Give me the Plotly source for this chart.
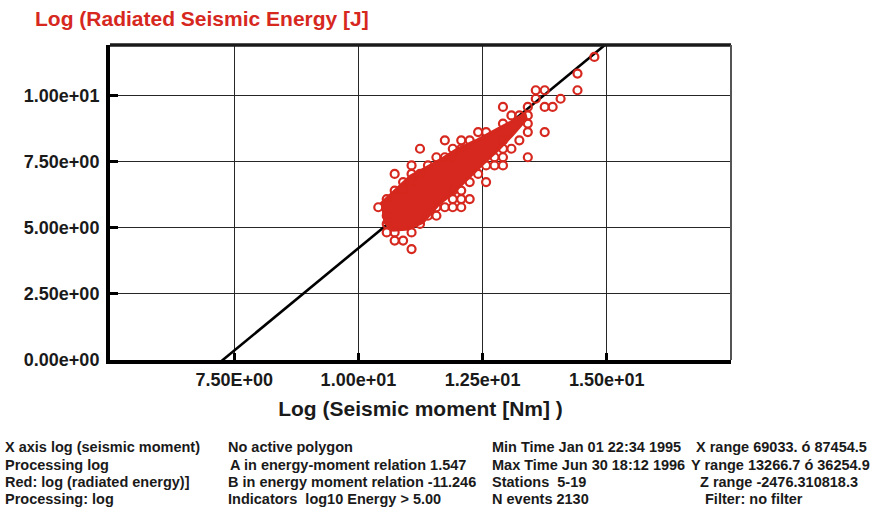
import plotly.graph_objects as go

# Energy-moment relation:  log E = A * log M0 + B
A_COEF = 1.547
B_COEF = -11.246

# Axis ranges and tick labels
x_range = [5.0, 17.5]
y_range = [0.0, 11.9]
x_tickvals = [7.5, 10.0, 12.5, 15.0]
x_ticktext = ["7.50E+00", "1.00e+01", "1.25e+01", "1.50e+01"]
y_tickvals = [0.0, 2.5, 5.0, 7.5, 10.0]
y_ticktext = ["0.00e+00", "2.50e+00", "5.00e+00", "7.50e+00", "1.00e+01"]

# Individual events: log seismic moment [Nm] and log radiated energy [J]
event_logm = [
    14.75, 14.41,
    13.57, 13.75, 14.41,
    13.57, 14.07,
    12.91, 13.41, 13.75, 13.91,
    13.08, 13.24, 13.41,
    12.91, 13.41,
    12.41, 12.57, 13.41, 13.75,
    11.74, 12.07, 12.24, 12.91, 13.24,
    11.24, 11.90, 12.07, 12.91, 13.08,
    11.57, 11.74, 11.90, 12.74, 12.91, 13.41,
    11.07, 11.40, 12.57, 12.74, 12.91,
    10.73, 11.07, 11.24, 12.41,
    10.90, 11.07, 12.24, 12.57,
    10.73, 10.90, 11.90, 12.07,
    10.57, 11.90, 12.07, 12.24,
    10.40, 11.57, 11.74, 11.90, 12.07,
    10.57, 11.40, 11.57,
    10.57, 11.24,
    10.57, 10.73, 11.07,
    10.73, 10.90,
    11.07,
]
event_loge = [
    11.45, 10.82,
    10.19, 10.19, 10.19,
    9.87, 9.87,
    9.56, 9.56, 9.56, 9.56,
    9.24, 9.24, 9.24,
    8.93, 8.93,
    8.61, 8.61, 8.61, 8.61,
    8.30, 8.30, 8.30, 8.30, 8.30,
    7.98, 7.98, 7.98, 7.98, 7.98,
    7.66, 7.66, 7.66, 7.66, 7.66, 7.66,
    7.35, 7.35, 7.35, 7.35, 7.35,
    7.03, 7.03, 7.03, 7.03,
    6.72, 6.72, 6.72, 6.72,
    6.40, 6.40, 6.40, 6.40,
    6.08, 6.08, 6.08, 6.08,
    5.77, 5.77, 5.77, 5.77, 5.77,
    5.45, 5.45, 5.45,
    5.14, 5.14,
    4.82, 4.82, 4.82,
    4.51, 4.51,
    4.19,
]

# Outline of the densely populated core of the cloud
core_logm = [10.45, 10.65, 10.85, 11.05, 11.35, 11.70, 12.00, 12.40, 12.80, 13.10, 13.35,
             13.38, 13.10, 12.80, 12.50, 12.20, 11.90, 11.60, 11.30, 11.00, 10.70, 10.50]
core_loge = [5.90, 6.25, 6.60, 6.95, 7.25, 7.62, 7.98, 8.32, 8.72, 9.02, 9.32,
             9.10, 8.50, 7.92, 7.40, 6.85, 6.30, 5.85, 5.20, 4.95, 4.90, 5.25]

RED = "#d6281e"
FONT = "Liberation Sans, Arial, Helvetica, sans-serif"

# Figure geometry (pixels)
W, H = 882, 509
PL, PR, PT, PB = 110, 731, 45, 360


def paper_x(px):
    return (px - PL) / (PR - PL)


def paper_y(py):
    return (PB - py) / (PB - PT)


fig = go.Figure()

# Fitted relation line
line_m = [x_range[0], x_range[1]]
line_e = [A_COEF * m + B_COEF for m in line_m]
fig.add_trace(go.Scatter(x=line_m, y=line_e, mode="lines",
                         line=dict(color="black", width=2.6),
                         hoverinfo="skip", showlegend=False))

# Dense core
fig.add_trace(go.Scatter(x=core_logm, y=core_loge, mode="lines", fill="toself",
                         fillcolor=RED, line=dict(color=RED, width=3),
                         hoverinfo="skip", showlegend=False))

# Events
fig.add_trace(go.Scatter(x=event_logm, y=event_loge, mode="markers",
                         marker=dict(symbol="circle-open", size=8, color=RED,
                                     line=dict(color=RED, width=2.2)),
                         showlegend=False))

fig.update_xaxes(range=x_range, tickmode="array", tickvals=x_tickvals, ticktext=x_ticktext,
                 showgrid=True, gridcolor="#262626", gridwidth=1.4, zeroline=False,
                 showline=True, linecolor="black", linewidth=4,
                 ticks="inside", ticklen=7, tickwidth=3, tickcolor="black",
                 tickfont=dict(family=FONT, size=18, color="#1a1a1a", weight="bold"),
                 title=dict(text="Log (Seismic moment [Nm] )", standoff=14,
                            font=dict(family=FONT, size=21, color="#1a1a1a", weight="bold")))
fig.update_yaxes(range=y_range, tickmode="array", tickvals=y_tickvals, ticktext=y_ticktext,
                 showgrid=True, gridcolor="#262626", gridwidth=1.4, zeroline=False,
                 showline=True, linecolor="black", linewidth=4,
                 ticks="inside", ticklen=8, tickwidth=3, tickcolor="black",
                 ticklabelstandoff=3,
                 tickfont=dict(family=FONT, size=18, color="#1a1a1a", weight="bold"))

# Top and right frame edges
fig.add_shape(type="line", xref="paper", yref="paper", x0=0, x1=1, y0=1, y1=1,
              line=dict(color="#1a1a1a", width=3.5))
fig.add_shape(type="line", xref="paper", yref="paper", x0=1, x1=1, y0=0, y1=1,
              line=dict(color="#555555", width=2))

# Vertical axis caption
fig.add_annotation(x=paper_x(33), y=paper_y(18), xref="paper", yref="paper",
                   xanchor="left", yanchor="middle", showarrow=False,
                   text="Log (Radiated Seismic Energy [J]",
                   font=dict(family=FONT, size=21, color=RED, weight="bold"))

# Processing summary below the chart
info_lines = [
    (4, 447, "X axis log (seismic moment)"),
    (4, 465, "Processing log"),
    (4, 482, "Red: log (radiated energy)]"),
    (4, 499, "Processing: log"),
    (227, 447, "No active polygon"),
    (229, 465, "A in energy-moment relation 1.547"),
    (227, 482, "B in energy moment relation -11.246"),
    (227, 499, "Indicators  log10 Energy > 5.00"),
    (491, 447, "Min Time Jan 01 22:34 1995"),
    (491, 465, "Max Time Jun 30 18:12 1996"),
    (491, 482, "Stations  5-19"),
    (491, 499, "N events 2130"),
    (695, 447, "X range 69033. ó 87454.5"),
    (690, 465, "Y range 13266.7 ó 36254.9"),
    (699, 482, "Z range -2476.310818.3"),
    (704, 499, "Filter: no filter"),
]
for px, py, txt in info_lines:
    fig.add_annotation(x=paper_x(px), y=paper_y(py), xref="paper", yref="paper",
                       xanchor="left", yanchor="middle", showarrow=False, text=txt,
                       borderpad=0,
                       font=dict(family=FONT, size=14.5, color="#1a1a1a", weight="bold"))

fig.update_layout(width=W, height=H,
                  margin=dict(l=PL, r=W - PR, t=PT, b=H - PB),
                  paper_bgcolor="white", plot_bgcolor="white")

fig.write_html("out.html")
